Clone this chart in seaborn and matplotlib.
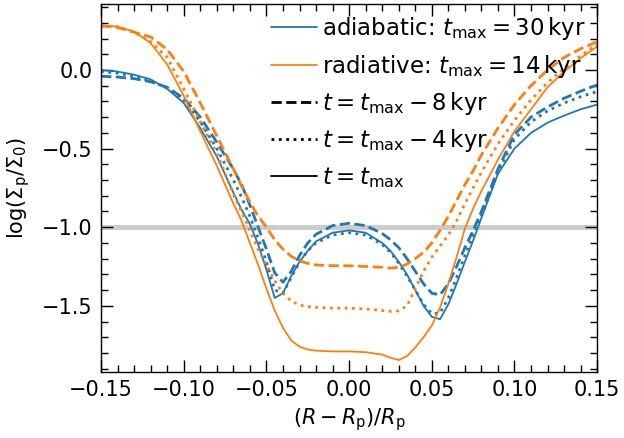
import numpy as np
import matplotlib
matplotlib.use('Agg')
import matplotlib.pyplot as plt
from matplotlib.lines import Line2D
from matplotlib.ticker import MultipleLocator
import seaborn as sns

# shared grid in (R - Rp)/Rp
x_grid = [-0.15, -0.14, -0.13, -0.12, -0.11, -0.10, -0.09, -0.08, -0.07, -0.065,
          -0.06, -0.055, -0.05, -0.045, -0.04, -0.035, -0.03, -0.025, -0.02, -0.01,
          0.0, 0.01, 0.02, 0.025, 0.03, 0.035, 0.04, 0.045, 0.05, 0.055,
          0.06, 0.065, 0.07, 0.075, 0.08, 0.09, 0.10, 0.11, 0.12, 0.13, 0.14, 0.15]

# adiabatic run, log(Sigma_p/Sigma_0)
adi_tmax = [0.00, -0.01, -0.03, -0.06, -0.12, -0.21, -0.37, -0.55, -0.78, -0.89,
            -0.98, -1.11, -1.27, -1.45, -1.42, -1.31, -1.22, -1.15, -1.09, -1.035,
            -1.02, -1.035, -1.10, -1.15, -1.22, -1.30, -1.40, -1.50, -1.57, -1.585,
            -1.49, -1.36, -1.22, -1.085, -0.94, -0.66, -0.50, -0.40, -0.335, -0.29, -0.25, -0.22]
adi_m8 = [-0.04, -0.045, -0.055, -0.075, -0.11, -0.18, -0.30, -0.46, -0.63, -0.73,
          -0.86, -1.00, -1.14, -1.29, -1.35, -1.28, -1.18, -1.10, -1.045, -0.99,
          -0.975, -0.99, -1.04, -1.08, -1.13, -1.20, -1.28, -1.36, -1.42, -1.43,
          -1.36, -1.25, -1.13, -1.02, -0.90, -0.63, -0.41, -0.30, -0.235, -0.18, -0.135, -0.095]
adi_m4 = [-0.01, -0.02, -0.04, -0.07, -0.115, -0.19, -0.33, -0.50, -0.70, -0.81,
          -0.93, -1.07, -1.22, -1.40, -1.42, -1.32, -1.22, -1.15, -1.10, -1.05,
          -1.035, -1.05, -1.11, -1.16, -1.23, -1.31, -1.40, -1.49, -1.55, -1.545,
          -1.45, -1.32, -1.18, -1.05, -0.93, -0.65, -0.44, -0.33, -0.26, -0.21, -0.17, -0.137]

# radiative run
rad_tmax = [0.285, 0.275, 0.245, 0.17, 0.035, -0.165, -0.39, -0.61, -0.85, -0.96,
            -1.10, -1.24, -1.39, -1.53, -1.64, -1.72, -1.76, -1.778, -1.785, -1.79,
            -1.79, -1.795, -1.81, -1.83, -1.845, -1.82, -1.765, -1.70, -1.625, -1.51,
            -1.36, -1.19, -1.01, -0.88, -0.77, -0.57, -0.39, -0.25, -0.11, -0.01, 0.075, 0.15]
rad_m8 = [0.28, 0.27, 0.24, 0.21, 0.13, -0.01, -0.21, -0.42, -0.63, -0.74,
          -0.84, -0.93, -1.00, -1.08, -1.14, -1.185, -1.215, -1.23, -1.24, -1.245,
          -1.245, -1.25, -1.255, -1.26, -1.255, -1.235, -1.20, -1.16, -1.10, -1.02,
          -0.93, -0.83, -0.73, -0.64, -0.54, -0.37, -0.22, -0.10, 0.00, 0.08, 0.135, 0.18]
rad_m4 = [0.28, 0.275, 0.24, 0.18, 0.08, -0.12, -0.33, -0.53, -0.79, -0.90,
          -1.02, -1.14, -1.24, -1.34, -1.42, -1.47, -1.495, -1.505, -1.51, -1.515,
          -1.515, -1.52, -1.53, -1.535, -1.532, -1.50, -1.39, -1.28, -1.19, -1.12,
          -1.05, -0.96, -0.85, -0.75, -0.65, -0.47, -0.32, -0.19, -0.08, 0.01, 0.09, 0.165]

legend_labels = [r'adiabatic: $t_{\rm max} = 30\,{\rm kyr}$',
                 r'radiative: $t_{\rm max} = 14\,{\rm kyr}$',
                 r'$t = t_{\rm max} - 8\,{\rm kyr}$',
                 r'$t = t_{\rm max} - 4\,{\rm kyr}$',
                 r'$t = t_{\rm max}$']

sns.set_style('ticks')
plt.rcParams['font.family'] = ['DejaVu Sans']
plt.rcParams['mathtext.fontset'] = 'dejavusans'
for key in ['text.color', 'axes.labelcolor', 'xtick.color', 'ytick.color', 'axes.edgecolor']:
    plt.rcParams[key] = 'black'

blue = '#1f77b4'
orange = '#ff7f0e'
lw_solid = 1.3
lw_broken = 2.0

fig, ax = plt.subplots(figsize=(6.24, 4.38), dpi=100)
fig.subplots_adjust(left=0.162, right=0.957, top=0.991, bottom=0.151)

ax.axhline(-1.0, color='#cccccc', lw=3.6, zorder=0)

curves = [
    (adi_m8, blue, '--', lw_broken),
    (adi_m4, blue, ':', lw_broken),
    (adi_tmax, blue, '-', lw_solid),
    (rad_m8, orange, '--', lw_broken),
    (rad_m4, orange, ':', lw_broken),
    (rad_tmax, orange, '-', lw_solid),
]
for yvals, col, ls, lw in curves:
    sns.lineplot(x=x_grid, y=yvals, color=col, linestyle=ls, lw=lw, ax=ax)

handles = [
    Line2D([], [], color=blue, ls='-', lw=lw_solid),
    Line2D([], [], color=orange, ls='-', lw=lw_solid),
    Line2D([], [], color='k', ls='--', lw=lw_broken),
    Line2D([], [], color='k', ls=':', lw=lw_broken),
    Line2D([], [], color='k', ls='-', lw=lw_solid),
]
ax.legend(handles, legend_labels, loc='upper right', frameon=False, fontsize=16.5,
          handlelength=2.0, handletextpad=0.2, labelspacing=0.45,
          borderaxespad=0.1)

ax.set_xlim(-0.15, 0.15)
ax.set_ylim(-1.92, 0.42)
ax.xaxis.set_major_locator(MultipleLocator(0.05))
ax.xaxis.set_minor_locator(MultipleLocator(0.01))
ax.yaxis.set_major_locator(MultipleLocator(0.5))
ax.yaxis.set_minor_locator(MultipleLocator(0.1))
ax.tick_params(which='both', direction='in', top=True, right=True, labelsize=15, pad=6,
               color='black', labelcolor='black')
ax.tick_params(which='major', length=8.6, width=1.0)
ax.tick_params(which='minor', length=4.7, width=1.0)
for sp in ax.spines.values():
    sp.set_linewidth(1.0)
    sp.set_color('black')

ax.set_xlabel(r'$(R - R_{\rm p})/R_{\rm p}$', fontsize=15)
ax.set_ylabel(r'$\log(\Sigma_{\rm p}/\Sigma_0)$', fontsize=15, labelpad=7.5)

fig.savefig('out.png', dpi=100)
